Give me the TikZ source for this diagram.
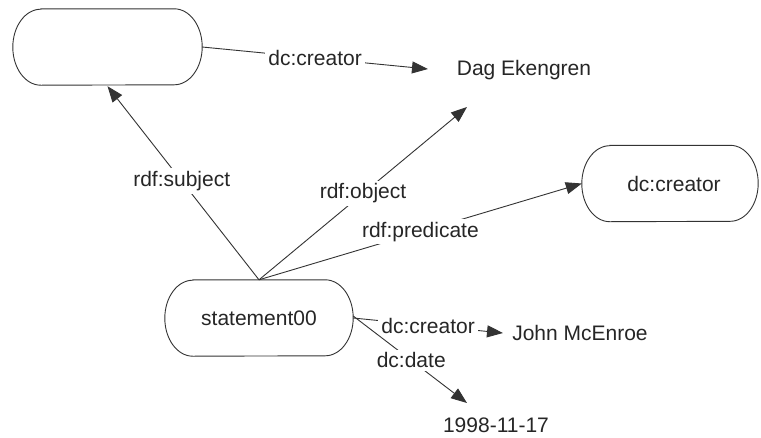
\documentclass[tikz,border=0pt]{standalone}
\usepackage{fontspec}
\setmainfont{Liberation Sans}
\usetikzlibrary{arrows.meta}
\newcommand\stadiumoutline[2]{% #1 node name, #2 x radius
  \draw[outline] ([xshift=#2]#1.north west) -- ([xshift=-#2]#1.north east)
    arc[start angle=90,end angle=-90,x radius=#2,y radius=38pt]
    -- ([xshift=#2]#1.south west)
    arc[start angle=270,end angle=90,x radius=#2,y radius=38pt] -- cycle;}
\begin{document}
\begin{tikzpicture}[x=1pt,y=-1pt,
  every node/.style={font=\fontsize{21}{25}\selectfont, text=black!85},
  blob/.style={draw=none, inner sep=0pt, minimum height=76pt},
  outline/.style={draw=black!80, line width=0.9pt},
  plain/.style={inner sep=2pt},
  edge/.style={draw=black!80, line width=0.9pt, -{Triangle[length=16pt,width=12pt]}},
  lbl/.style={fill=white, inner sep=3pt, midway}]
\useasboundingbox[fill=white] (0,0) rectangle (761,437);

\node[blob, minimum width=189pt] (res) at (107.5,47) {};
\node[blob, minimum width=176pt] (pred) at (670,183.5) {\hspace*{8pt}dc:creator};
\node[blob, minimum width=188pt] (st) at (259,318) {statement00};
\stadiumoutline{res}{28pt}
\stadiumoutline{pred}{28pt}
\stadiumoutline{st}{28pt}

\node[plain] (dag) at (524,70) {Dag Ekengren};
\node[plain] (john) at (580,333) {John McEnroe};
\node[plain] (date) at (496,425) {1998-11-17};

\coordinate (dagl) at (428,69);
\coordinate (dagb) at (467,107);
\coordinate (johnl) at (503,333);
\coordinate (datet) at (467,403);

\draw[edge] (res.east) -- node[lbl] {dc:creator} (dagl);
\draw[edge] (st.north) -- node[lbl, pos=0.51] {rdf:subject} ([yshift=-1pt]res.south);
\draw[edge] (st.north) -- node[lbl] {rdf:object} (dagb);
\draw[edge] (st.north) -- node[lbl] {rdf:predicate} (pred.west);
\draw[edge] (st.east) -- node[lbl] {dc:creator} (johnl);
\draw[edge] ([yshift=2pt]st.east) -- node[lbl, pos=0.51] {dc:date} (datet);
\end{tikzpicture}
\end{document}
